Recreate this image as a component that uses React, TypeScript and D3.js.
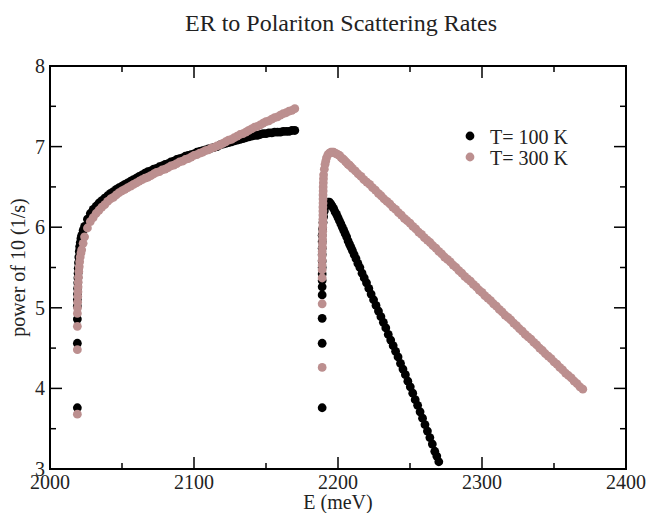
import React from "react";
import * as d3 from "d3";

// ---- data (E in meV, rate as power of 10 in 1/s) ----
const title = "ER to Polariton Scattering Rates";
const xLabel = "E (meV)";
const yLabel = "power of 10 (1/s)";
const seriesNames = ["T= 100 K", "T= 300 K"];
const xTicks = [2000, 2100, 2200, 2300, 2400];
const xMinorTicks = [2050, 2150, 2250, 2350];
const yTicks = [3, 4, 5, 6, 7, 8];
const yMinorTicks = [3.5, 4.5, 5.5, 6.5, 7.5];

// ---------- T = 100 K ----------
// lower branch: onset (E, value)
const b100OnsetE = [
  2019, 2019, 2019, 2019, 2019, 2019.1, 2019.2, 2019.3, 2019.4, 2019.5,
  2019.6, 2019.8, 2020, 2020.3, 2020.6, 2021, 2021.5, 2022, 2023,
];
const b100OnsetV = [
  3.76, 4.56, 4.86, 5.02, 5.1, 5.17, 5.24, 5.31, 5.37, 5.43,
  5.49, 5.56, 5.63, 5.7, 5.76, 5.81, 5.86, 5.9, 5.96,
];
// lower branch: body
const b100LeftE = d3.range(2024, 2171, 2);
const b100LeftV = [
  6.01, 6.1, 6.17, 6.22, 6.26, 6.3, 6.33, 6.36,
  6.39, 6.42, 6.44, 6.47, 6.49, 6.51, 6.53, 6.55, 6.57, 6.59,
  6.61, 6.63, 6.65, 6.67, 6.69, 6.7, 6.72, 6.73, 6.75, 6.76,
  6.78, 6.79, 6.81, 6.82, 6.84, 6.85, 6.86, 6.88, 6.89, 6.9,
  6.91, 6.93, 6.94, 6.95, 6.96, 6.97, 6.98, 6.99, 7.0, 7.02,
  7.03, 7.04, 7.05, 7.06, 7.07, 7.08, 7.09, 7.1, 7.11, 7.12,
  7.13, 7.14, 7.14, 7.15, 7.16, 7.16, 7.17, 7.17, 7.18, 7.18,
  7.18, 7.19, 7.19, 7.19, 7.2, 7.2,
];
// upper branch: onset and peak
const b100PeakE = [
  2189, 2189, 2189, 2189, 2189, 2189, 2189, 2189, 2189, 2189,
  2189, 2189, 2189, 2189.3, 2189.6, 2190, 2190.5, 2191, 2191.5, 2192,
  2193, 2194, 2195, 2196, 2197, 2198, 2199, 2200, 2201, 2202,
  2203, 2204, 2205, 2206, 2207, 2208, 2209, 2210,
];
const b100PeakV = [
  3.76, 4.56, 4.87, 5.16, 5.26, 5.34, 5.42, 5.5, 5.58, 5.66,
  5.74, 5.82, 5.9, 5.98, 6.06, 6.13, 6.2, 6.25, 6.28, 6.3,
  6.31, 6.31, 6.29, 6.26, 6.23, 6.19, 6.16, 6.12, 6.08, 6.04,
  6.0, 5.96, 5.92, 5.88, 5.83, 5.79, 5.75, 5.71,
];
// upper branch: tail (sampling gets sparser with energy)
const b100TailE = [
  2211.2, 2212.5, 2213.8, 2215.2, 2216.7, 2218.2, 2219.8, 2221.4, 2223, 2224.7,
  2226.4, 2228.1, 2229.8, 2231.5, 2233.2, 2234.9, 2236.6, 2238.3, 2240, 2241.7,
  2243.4, 2245.1, 2246.8, 2248.5, 2250.2, 2251.9, 2253.6, 2255.3, 2257, 2258.7,
  2260.4, 2262.1, 2263.8, 2265.5, 2267.2, 2268.6, 2270,
];
const b100TailV = [
  5.66, 5.61, 5.55, 5.5, 5.43, 5.37, 5.31, 5.24, 5.17, 5.1,
  5.03, 4.96, 4.89, 4.82, 4.75, 4.67, 4.6, 4.53, 4.46, 4.39,
  4.31, 4.24, 4.17, 4.09, 4.02, 3.94, 3.86, 3.79, 3.71, 3.63,
  3.55, 3.47, 3.39, 3.31, 3.22, 3.16, 3.09,
];

// ---------- T = 300 K ----------
const b300OnsetE = [
  2019, 2019, 2019, 2019, 2019.1, 2019.2, 2019.3, 2019.4, 2019.5, 2019.6,
  2019.8, 2020, 2020.3, 2020.6, 2021, 2021.5, 2022, 2023,
];
const b300OnsetV = [
  3.68, 4.48, 4.77, 4.93, 5.0, 5.07, 5.14, 5.2, 5.26, 5.32,
  5.38, 5.45, 5.51, 5.57, 5.63, 5.68, 5.72, 5.8,
];
const b300LeftE = d3.range(2024, 2171, 2);
const b300LeftV = [
  5.88, 5.99, 6.07, 6.12, 6.17, 6.21, 6.25, 6.28,
  6.32, 6.35, 6.37, 6.4, 6.43, 6.45, 6.47, 6.49, 6.51, 6.53,
  6.55, 6.57, 6.59, 6.61, 6.62, 6.64, 6.66, 6.68, 6.69, 6.71,
  6.72, 6.74, 6.76, 6.77, 6.79, 6.81, 6.82, 6.84, 6.85, 6.87,
  6.89, 6.9, 6.92, 6.93, 6.95, 6.96, 6.98, 6.99, 7.01, 7.02,
  7.04, 7.06, 7.08, 7.09, 7.11, 7.13, 7.15, 7.16, 7.18, 7.2,
  7.22, 7.24, 7.25, 7.27, 7.29, 7.31, 7.32, 7.34, 7.36, 7.37,
  7.39, 7.41, 7.42, 7.44, 7.45, 7.47,
];
const b300PeakE = [
  2189, 2189, 2189, 2189, 2189, 2189, 2189, 2189, 2189.2, 2189.2,
  2189.3, 2189.3, 2189.4, 2189.4, 2189.5, 2189.5, 2189.5, 2189.5, 2189.5, 2189.6,
  2189.6, 2189.6, 2189.7, 2189.7, 2189.8, 2189.9, 2190, 2190.5, 2191, 2191.5,
  2192, 2193, 2194, 2195, 2196, 2197, 2198, 2199, 2200, 2201,
  2202, 2203, 2204, 2205, 2206, 2207, 2208, 2209, 2210,
];
const b300PeakV = [
  4.26, 5.05, 5.37, 5.47, 5.53, 5.59, 5.65, 5.7, 5.75, 5.8,
  5.85, 5.9, 5.95, 6.0, 6.05, 6.1, 6.15, 6.2, 6.25, 6.3,
  6.35, 6.4, 6.45, 6.5, 6.55, 6.6, 6.65, 6.72, 6.78, 6.82,
  6.86, 6.9, 6.92, 6.93, 6.93, 6.93, 6.92, 6.91, 6.9, 6.89,
  6.87, 6.85, 6.84, 6.82, 6.8, 6.78, 6.77, 6.75, 6.73,
];
const b300TailE = d3.range(2212, 2371, 2);
const b300TailV = [
  6.7, 6.66, 6.63, 6.59, 6.56, 6.53, 6.49, 6.46, 6.42, 6.39,
  6.35, 6.32, 6.29, 6.25, 6.22, 6.18, 6.15, 6.11, 6.08, 6.05,
  6.01, 5.98, 5.94, 5.91, 5.87, 5.84, 5.81, 5.77, 5.74, 5.7,
  5.67, 5.63, 5.6, 5.57, 5.53, 5.5, 5.46, 5.43, 5.39, 5.36,
  5.33, 5.29, 5.26, 5.22, 5.19, 5.15, 5.12, 5.09, 5.05, 5.02,
  4.98, 4.95, 4.91, 4.88, 4.85, 4.81, 4.78, 4.74, 4.71, 4.67,
  4.64, 4.61, 4.57, 4.54, 4.5, 4.47, 4.43, 4.4, 4.37, 4.33,
  4.3, 4.26, 4.23, 4.19, 4.16, 4.13, 4.09, 4.06, 4.02, 3.99,
];

type Pt = { e: number; v: number };
const zipPts = (es: number[], vs: number[]): Pt[] => vs.map((v, i) => ({ e: es[i], v }));

const series100: Pt[] = [
  ...zipPts(b100OnsetE, b100OnsetV),
  ...zipPts(b100LeftE, b100LeftV),
  ...zipPts(b100PeakE, b100PeakV),
  ...zipPts(b100TailE, b100TailV),
];
const series300: Pt[] = [
  ...zipPts(b300OnsetE, b300OnsetV),
  ...zipPts(b300LeftE, b300LeftV),
  ...zipPts(b300PeakE, b300PeakV),
  ...zipPts(b300TailE, b300TailV),
];

const colors = ["#000000", "#bc8f8f"];
const FONT = "'Liberation Serif', 'Times New Roman', serif";

export default function App() {
  const W = 647, H = 513;
  const L = 50, R = 626, T = 66, B = 469;
  const x = d3.scaleLinear().domain([2000, 2400]).range([L, R]);
  const y = d3.scaleLinear().domain([3, 8]).range([B, T]);
  const r = 4.4;
  const major = 12, minor = 6;

  return (
    <svg width={W} height={H} style={{ position: "absolute", left: 0, top: 0, background: "#fff" }} fontFamily={FONT}>
      <rect x={0} y={0} width={W} height={H} fill="#fff" />
      <text x={341} y={31} textAnchor="middle" fontSize={24} fill="#222">{title}</text>

      {/* data */}
      <g>
        {series100.map((p, i) => (
          <circle key={"a" + i} cx={x(p.e)} cy={y(p.v)} r={r} fill={colors[0]} />
        ))}
        {series300.map((p, i) => (
          <circle key={"b" + i} cx={x(p.e)} cy={y(p.v)} r={r} fill={colors[1]} />
        ))}
      </g>

      {/* frame and ticks */}
      <g stroke="#000" strokeWidth={1.5} fill="none">
        <rect x={L} y={T} width={R - L} height={B - T} strokeWidth={2} />
        {xTicks.map((t) => (
          <g key={"xt" + t}>
            <line x1={x(t)} x2={x(t)} y1={B} y2={B - major} />
            <line x1={x(t)} x2={x(t)} y1={T} y2={T + major} />
          </g>
        ))}
        {xMinorTicks.map((t) => (
          <g key={"xm" + t}>
            <line x1={x(t)} x2={x(t)} y1={B} y2={B - minor} />
            <line x1={x(t)} x2={x(t)} y1={T} y2={T + minor} />
          </g>
        ))}
        {yTicks.map((t) => (
          <g key={"yt" + t}>
            <line x1={L} x2={L + major} y1={y(t)} y2={y(t)} />
            <line x1={R} x2={R - major} y1={y(t)} y2={y(t)} />
          </g>
        ))}
        {yMinorTicks.map((t) => (
          <g key={"ym" + t}>
            <line x1={L} x2={L + minor} y1={y(t)} y2={y(t)} />
            <line x1={R} x2={R - minor} y1={y(t)} y2={y(t)} />
          </g>
        ))}
      </g>

      {/* tick labels */}
      <g fontSize={20} fill="#222">
        {xTicks.map((t) => (
          <text key={"xl" + t} x={x(t)} y={489} textAnchor="middle">{t}</text>
        ))}
        {yTicks.map((t) => (
          <text key={"yl" + t} x={L - 5} y={y(t) + 7} textAnchor="end">{t}</text>
        ))}
      </g>

      {/* axis labels */}
      <text x={x(2200)} y={509} textAnchor="middle" fontSize={20} fill="#222">{xLabel}</text>
      <text transform={`translate(25, ${(T + B) / 2}) rotate(-90)`} textAnchor="middle" fontSize={20} fill="#222">{yLabel}</text>

      {/* legend */}
      <g fontSize={20} fill="#222">
        {seriesNames.map((n, i) => (
          <g key={n}>
            <circle cx={470} cy={136 + i * 21} r={r} fill={colors[i]} />
            <text x={490} y={144 + i * 21}>{n}</text>
          </g>
        ))}
      </g>
    </svg>
  );
}
